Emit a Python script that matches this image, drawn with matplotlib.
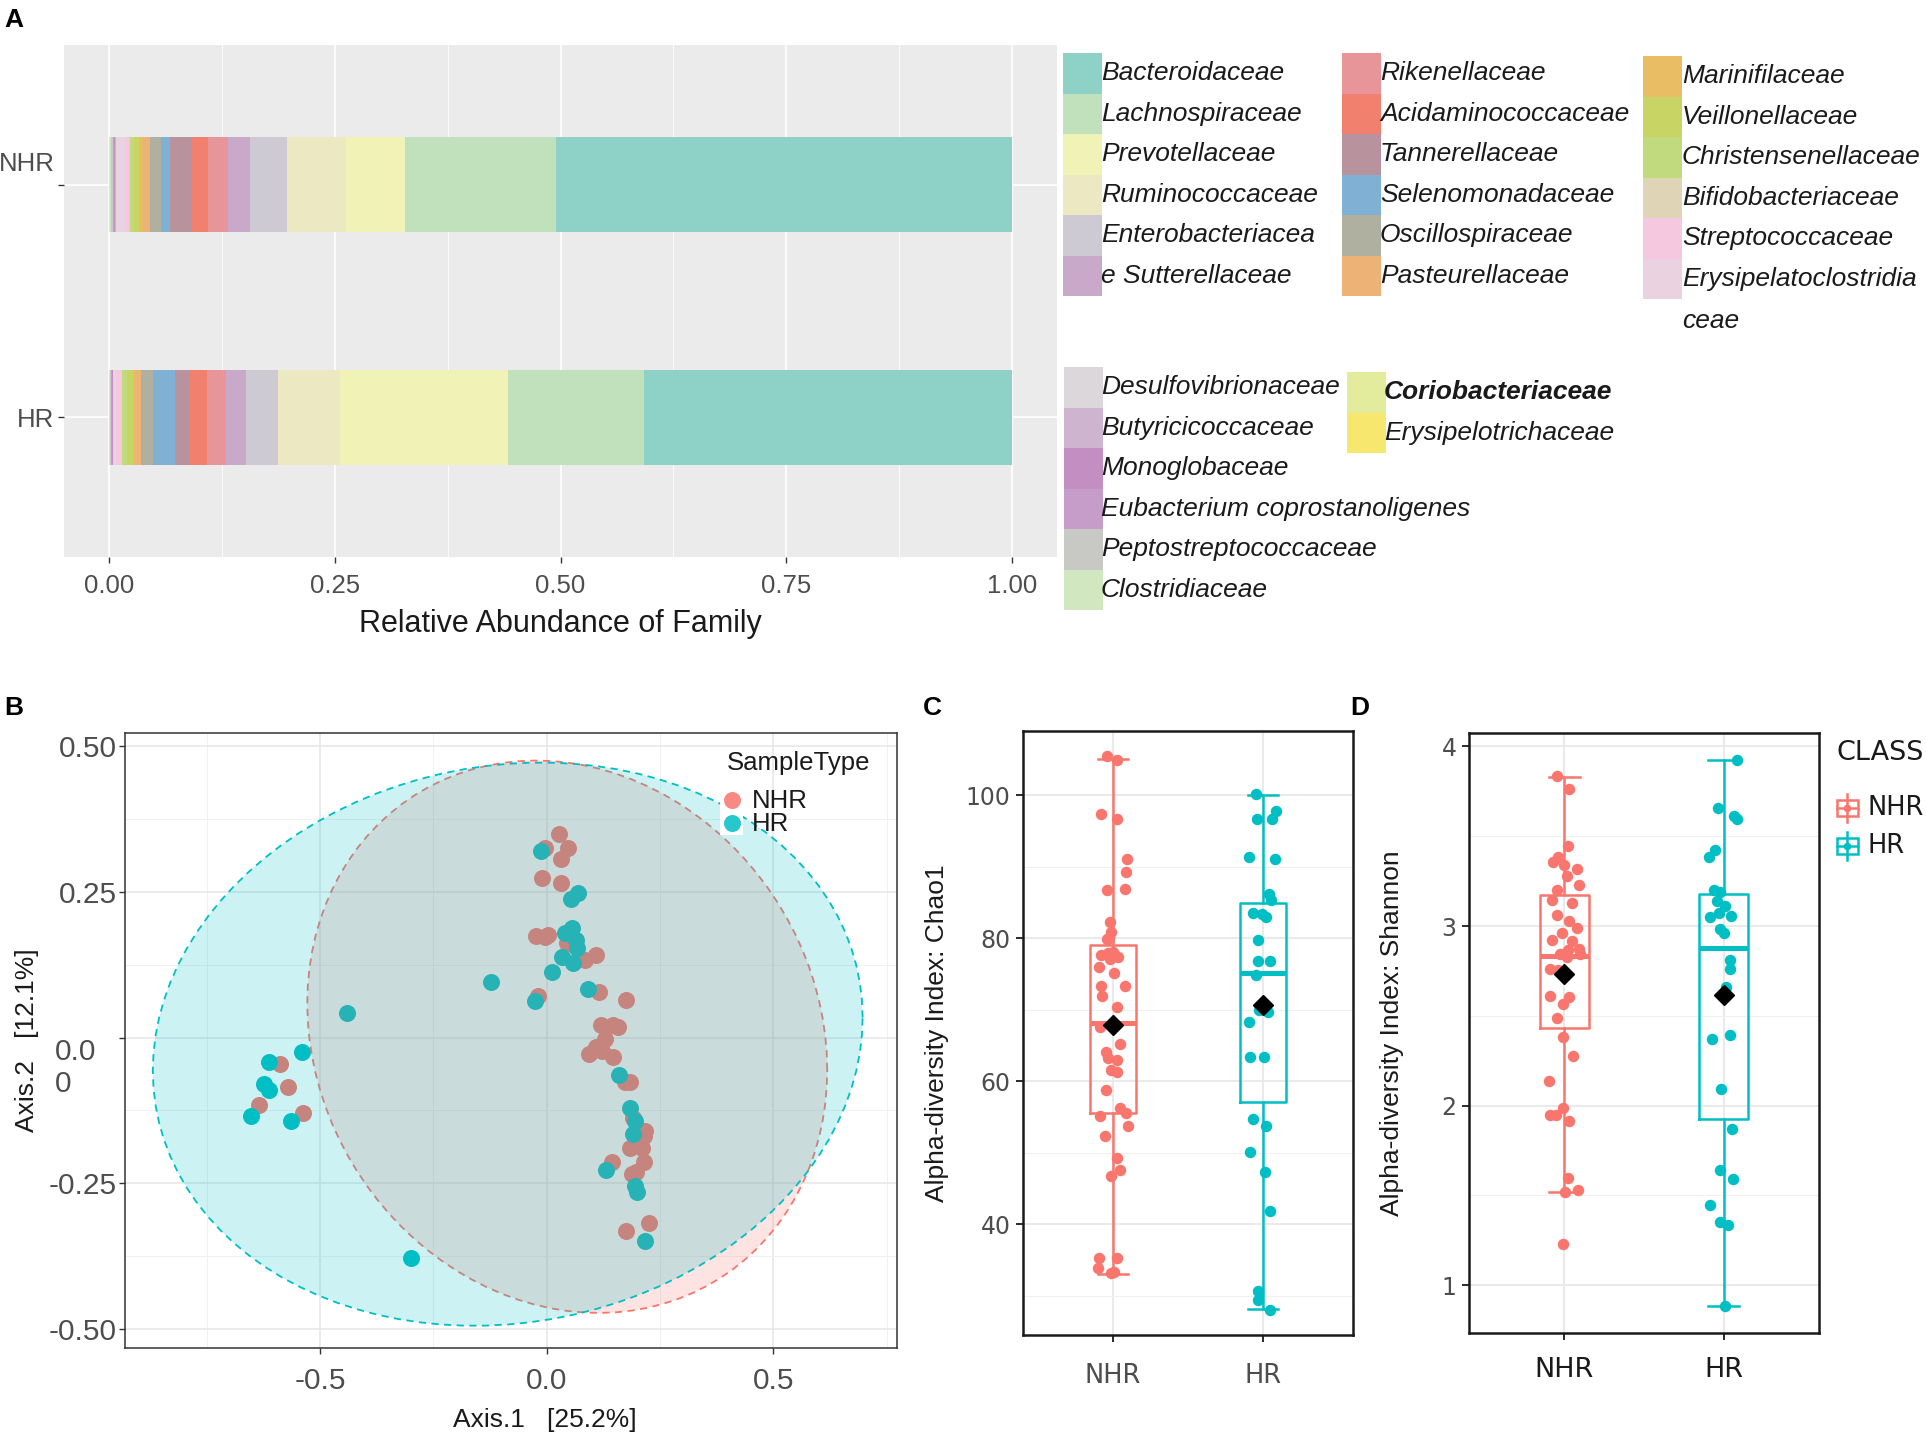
import numpy as np
import matplotlib
matplotlib.use("Agg")
import matplotlib.pyplot as plt
from matplotlib.patches import Rectangle
from matplotlib.ticker import FixedLocator
from matplotlib.transforms import ScaledTranslation

plt.rcParams['font.family'] = ['Liberation Sans', 'DejaVu Sans']

# ---------------- data ----------------
families = ['Bacteroidaceae', 'Lachnospiraceae', 'Prevotellaceae', 'Ruminococcaceae',
            'Enterobacteriaceae', 'Sutterellaceae', 'Rikenellaceae', 'Acidaminococcaceae',
            'Tannerellaceae', 'Selenomonadaceae', 'Oscillospiraceae', 'Pasteurellaceae',
            'Marinifilaceae', 'Veillonellaceae', 'Christensenellaceae', 'Bifidobacteriaceae',
            'Streptococcaceae', 'Erysipelatoclostridiaceae', 'Desulfovibrionaceae',
            'Butyricicoccaceae', 'Monoglobaceae', 'Eubacterium coprostanoligenes',
            'Peptostreptococcaceae', 'Clostridiaceae', 'Coriobacteriaceae', 'Erysipelotrichaceae']
legend_labels = ['Bacteroidaceae', 'Lachnospiraceae', 'Prevotellaceae', 'Ruminococcaceae',
                 'Enterobacteriacea', 'e Sutterellaceae', 'Rikenellaceae', 'Acidaminococcaceae',
                 'Tannerellaceae', 'Selenomonadaceae', 'Oscillospiraceae', 'Pasteurellaceae',
                 'Marinifilaceae', 'Veillonellaceae', 'Christensenellaceae', 'Bifidobacteriaceae',
                 'Streptococcaceae', 'Erysipelatoclostridia\nceae', 'Desulfovibrionaceae',
                 'Butyricicoccaceae', 'Monoglobaceae', 'Eubacterium coprostanoligenes',
                 'Peptostreptococcaceae', 'Clostridiaceae', 'Coriobacteriaceae', 'Erysipelotrichaceae']
family_colors = ['#8ed1c6', '#c1e1bd', '#f0f2b6', '#ebe8c2', '#cdcad3', '#c8a9c9', '#e8959a',
                 '#f2806f', '#b8929d', '#80b0d4', '#b0b0a1', '#ecb276', '#e8bd63', '#c8d464',
                 '#c2da7e', '#dfd5b6', '#f6c8df', '#ead2e0', '#dbd7da', '#cfb4cf', '#c38fc3',
                 '#c59dc8', '#c8c9c4', '#d1e7c0', '#e3ec9c', '#f8e76e']
bar_groups = ['HR', 'NHR']
nhr_abund = [0.505, 0.168, 0.065, 0.066, 0.041, 0.024, 0.0215, 0.0184, 0.024, 0.0107, 0.0122,
             0.007, 0.0052, 0.005, 0.005, 0.0003, 0.004, 0.010, 0.0008, 0.0005, 0.0017, 0.0015,
             0.002, 0.001, 0.0005, 0.0003]
hr_abund = [0.4075, 0.1505, 0.186, 0.0686, 0.0351, 0.0229, 0.021, 0.0185, 0.017, 0.024, 0.0137,
            0.006, 0.0025, 0.007, 0.0048, 0.0005, 0.0065, 0.002, 0.001, 0.0006, 0.001, 0.001,
            0.001, 0.0005, 0.0003, 0.0002]

classes = ['NHR', 'HR']
class_colors = ['#F8766D', '#00BFC4']

nhr_axis1 = [0.028, 0.047, -0.004, 0.031, -0.010, 0.031, -0.023, -0.004, 0.003, 0.044, 0.084,
             0.110, -0.019, 0.116, 0.175, 0.120, 0.147, 0.157, 0.128, 0.110, 0.093, 0.122, 0.147,
             0.173, 0.185, 0.191, 0.217, 0.214, 0.185, 0.210, 0.214, 0.145, 0.189, 0.198, 0.225,
             0.176, -0.589, -0.571, -0.634, -0.537]
nhr_axis2 = [0.349, 0.325, 0.325, 0.306, 0.274, 0.266, 0.175, 0.173, 0.177, 0.162, 0.133, 0.141,
             0.071, 0.078, 0.064, 0.021, 0.021, 0.018, -0.003, -0.017, -0.028, -0.023, -0.033,
             -0.076, -0.076, -0.138, -0.161, -0.169, -0.190, -0.190, -0.213, -0.213, -0.234,
             -0.230, -0.319, -0.332, -0.046, -0.084, -0.116, -0.130]
hr_axis1 = [-0.013, 0.069, 0.053, 0.055, 0.040, 0.065, 0.068, 0.034, 0.059, 0.011, -0.123, -0.026,
            0.091, 0.160, 0.185, 0.195, 0.191, 0.132, 0.194, 0.200, 0.217, -0.300, -0.440, -0.540,
            -0.612, -0.623, -0.612, -0.652, -0.564]
hr_axis2 = [0.320, 0.249, 0.238, 0.188, 0.179, 0.167, 0.153, 0.138, 0.128, 0.112, 0.096, 0.063,
            0.083, -0.065, -0.121, -0.144, -0.165, -0.228, -0.254, -0.265, -0.350, -0.378, 0.042,
            -0.025, -0.042, -0.079, -0.090, -0.134, -0.143]

chao_nhr = [105.4, 104.9, 97.3, 96.7, 91.0, 89.2, 86.9, 86.7, 82.2, 80.9, 80.0, 79.8, 77.6, 77.9,
            78.1, 77.3, 76.0, 77.1, 75.1, 73.3, 73.3, 71.9, 70.3, 67.6, 65.2, 64.1, 63.2, 62.9,
            61.6, 61.3, 58.7, 56.3, 55.6, 55.1, 53.7, 52.3, 49.3, 47.6, 46.8, 35.3, 35.3, 33.8,
            33.2, 33.3]
chao_nhr_jitter = [-0.04, 0.027, -0.078, 0.027, 0.093, 0.089, 0.082, -0.04, -0.018, -0.011, -0.027,
                   -0.04, -0.078, -0.033, 0.0, 0.033, -0.093, -0.022, 0.007, -0.078, 0.078, -0.071,
                   0.029, -0.089, 0.044, -0.044, -0.033, 0.027, -0.011, 0.027, -0.044, 0.049,
                   0.089, -0.089, 0.1, -0.056, 0.029, 0.049, -0.016, -0.093, 0.027, -0.1, -0.011,
                   0.007]
chao_hr = [100.1, 96.7, 96.7, 97.8, 91.4, 91.0, 86.1, 85.3, 83.5, 83.4, 82.9, 79.7, 76.8, 76.8,
           74.9, 69.6, 70.0, 68.3, 63.4, 63.3, 54.7, 53.7, 50.1, 47.3, 41.8, 30.7, 29.4, 28.0]
chao_hr_jitter = [-0.049, -0.04, 0.062, 0.084, -0.093, 0.078, 0.04, 0.056, -0.067, -0.004, 0.018,
                  -0.033, -0.033, 0.044, -0.044, 0.033, -0.027, -0.093, -0.089, 0.004, -0.067,
                  0.022, -0.089, 0.016, 0.049, -0.033, -0.033, 0.044]
chao_q1 = [55.6, 57.1]
chao_med = [68.1, 75.1]
chao_q3 = [79.0, 84.9]
chao_lo = [33.0, 28.1]
chao_hi = [105.0, 100.0]
chao_mean = [67.8, 70.6]

shan_nhr = [3.833, 3.764, 3.447, 3.384, 3.355, 3.338, 3.317, 3.276, 3.226, 3.198, 3.146, 3.131,
            3.062, 3.029, 2.988, 2.960, 2.923, 2.919, 2.867, 2.871, 2.843, 2.830, 2.843, 2.760,
            2.753, 2.613, 2.607, 2.566, 2.487, 2.381, 2.277, 2.139, 1.985, 1.948, 1.948, 1.916,
            1.596, 1.521, 1.530, 1.230]
shan_nhr_jitter = [-0.044, 0.031, 0.025, -0.038, -0.073, -0.002, 0.078, 0.019, 0.092, -0.044,
                   -0.08, 0.046, -0.048, 0.031, 0.078, -0.017, -0.08, 0.046, 0.025, 0.094,
                   -0.027, 0.015, 0.099, -0.09, -0.038, -0.094, 0.031, -0.01, -0.048, -0.01,
                   0.052, -0.096, -0.01, -0.09, -0.052, 0.031, 0.025, 0.004, 0.088, -0.01]
shan_hr = [3.922, 3.657, 3.611, 3.598, 3.421, 3.384, 3.198, 3.192, 3.137, 3.109, 3.075, 3.049,
           3.058, 2.983, 2.960, 2.812, 2.760, 2.663, 2.394, 2.370, 2.091, 1.869, 1.642, 1.590,
           1.447, 1.350, 1.335, 0.884]
shan_hr_jitter = [0.084, -0.038, 0.063, 0.084, -0.052, -0.094, -0.063, -0.025, -0.042, 0.01,
                  -0.031, -0.088, 0.048, -0.021, 0.0, 0.042, 0.042, 0.017, 0.042, -0.073, -0.017,
                  0.052, -0.025, 0.059, -0.084, -0.021, 0.025, 0.01]
shan_q1 = [2.431, 1.924]
shan_med = [2.836, 2.880]
shan_q3 = [3.174, 3.180]
shan_lo = [1.521, 0.886]
shan_hi = [3.830, 3.922]
shan_mean = [2.734, 2.617]

# ---------------- layout helpers ----------------
W, H = 1926, 1440
fig = plt.figure(figsize=(W / 100, H / 100), dpi=100)


def rect(l, t, r, b):
    return [l / W, 1 - b / H, (r - l) / W, (b - t) / H]


def shift(txt, dx_pt, dy_pt):
    txt.set_transform(txt.get_transform() +
                      ScaledTranslation(dx_pt / 72, dy_pt / 72, fig.dpi_scale_trans))


GRAY_TXT = '#4d4d4d'

# ---------------- Panel A ----------------
axA = fig.add_axes(rect(64, 45, 1057, 557))
axA.set_facecolor('#ebebeb')
for sp in axA.spines.values():
    sp.set_visible(False)
abund = {'NHR': np.array(nhr_abund), 'HR': np.array(hr_abund)}
for gi, g in enumerate(bar_groups):
    vals = abund[g] / abund[g].sum()
    left = 0.0
    for fi in range(len(families) - 1, -1, -1):
        axA.barh(gi + 1, vals[fi], left=left, height=0.41, color=family_colors[fi],
                 linewidth=0, zorder=3)
        left += vals[fi]
axA.set_xlim(-0.05, 1.05)
axA.set_ylim(0.4, 2.6)
axA.set_xticks([0, 0.25, 0.5, 0.75, 1.0])
axA.set_xticklabels(['0.00', '0.25', '0.50', '0.75', '1.00'])
axA.xaxis.set_minor_locator(FixedLocator([0.125, 0.375, 0.625, 0.875]))
axA.set_yticks([1, 2])
axA.set_yticklabels(bar_groups)
axA.grid(which='major', color='white', linewidth=1.2, zorder=0)
axA.grid(which='minor', axis='x', color='white', linewidth=0.6, zorder=0)
axA.set_axisbelow(True)
axA.tick_params(axis='both', length=4, width=1, color='#333333', labelcolor=GRAY_TXT,
                labelsize=18.5, pad=3)
axA.tick_params(axis='x', pad=8)
axA.tick_params(axis='x', which='minor', length=0)
shift(axA.get_yticklabels()[1], 0, 17)
axA.set_xlabel('Relative Abundance of Family', fontsize=22, color='#1a1a1a', labelpad=8)

# ---------------- Panel B ----------------
axB = fig.add_axes(rect(125, 733, 897, 1348))
axB.set_xlim(-0.93, 0.773)
axB.set_ylim(-0.533, 0.523)
pcoa = [(nhr_axis1, nhr_axis2), (hr_axis1, hr_axis2)]
for ci, (a1, a2) in enumerate(pcoa):
    axB.scatter(a1, a2, s=150, color=class_colors[ci], linewidths=0, zorder=2)


def stat_ellipse(x, y, level=0.95, segments=101):
    pts = np.column_stack([x, y])
    n = len(pts)
    center = pts.mean(axis=0)
    cov = np.cov(pts.T)
    dfd = n - 1
    fq = (dfd / 2.0) * ((1 - level) ** (-2.0 / dfd) - 1)
    radius = np.sqrt(2 * fq)
    chol = np.linalg.cholesky(cov).T
    ang = np.linspace(0, 2 * np.pi, segments)
    unit = np.column_stack([np.cos(ang), np.sin(ang)])
    return center + radius * unit @ chol


for ci, (a1, a2) in enumerate(pcoa):
    e = stat_ellipse(a1, a2)
    axB.fill(e[:, 0], e[:, 1], color=class_colors[ci], alpha=0.2, linewidth=0, zorder=3 + 2 * ci)
    axB.plot(e[:, 0], e[:, 1], color=class_colors[ci], linestyle=(0, (4, 3)), linewidth=1.3,
             zorder=4 + 2 * ci)
axB.set_xticks([-0.5, 0.0, 0.5])
axB.set_xticklabels(['-0.5', '0.0', '0.5'])
axB.xaxis.set_minor_locator(FixedLocator([-0.75, -0.25, 0.25, 0.75]))
axB.set_yticks([-0.5, -0.25, 0.0, 0.25, 0.5])
axB.set_yticklabels(['-0.50', '-0.25', '0.0\n0', '0.25', '0.50'])
axB.yaxis.set_minor_locator(FixedLocator([-0.375, -0.125, 0.125, 0.375]))
axB.grid(which='major', color='#e6e6e6', linewidth=1.1, zorder=0)
axB.grid(which='minor', color='#f0f0f0', linewidth=0.7, zorder=0)
axB.set_axisbelow(True)
for sp in axB.spines.values():
    sp.set_color('#333333')
    sp.set_linewidth(1.1)
axB.tick_params(which='major', length=4, width=1, color='#333333', labelcolor=GRAY_TXT,
                labelsize=21.5, pad=2)
axB.tick_params(axis='x', pad=10)
axB.tick_params(which='minor', length=0)
zl = axB.get_yticklabels()[2]
zl.set_verticalalignment('top')
zl.set_multialignment('left')
shift(zl, -15, 0)
axB.set_xlabel('Axis.1   [25.2%]', fontsize=19, color='#1a1a1a')
axB.xaxis.set_label_coords(0.544, -0.098)
axB.set_ylabel('Axis.2   [12.1%]', fontsize=19, color='#1a1a1a')
axB.yaxis.set_label_coords(-0.112, 0.5)


# ---------------- Panels C / D ----------------
def box_panel(ax, q1, med, q3, lo, hi, means, vals, jits, ylim, yticks, yminor, ylabel):
    stats = []
    for i in range(2):
        stats.append(dict(q1=q1[i], med=med[i], q3=q3[i], whislo=lo[i], whishi=hi[i],
                          fliers=[], label=classes[i]))
    for i in range(2):
        ax.scatter(np.array(jits[i]) + i + 1, vals[i], s=68, color=class_colors[i],
                   linewidths=0, zorder=3)
    res = ax.bxp(stats, positions=[1, 2], widths=0.31, capwidths=0.2, showfliers=False,
                 manage_ticks=False, zorder=4)
    for i in range(2):
        c = class_colors[i]
        res['boxes'][i].set(color=c, linewidth=1.8)
        res['medians'][i].set(color=c, linewidth=3.6)
        for k in (2 * i, 2 * i + 1):
            res['whiskers'][k].set(color=c, linewidth=1.8)
            res['caps'][k].set(color=c, linewidth=1.8)
    ax.plot([1, 2], means, linestyle='none', marker='D', markersize=10, color='black', zorder=6)
    ax.set_xlim(0.4, 2.6)
    ax.set_ylim(*ylim)
    ax.set_xticks([1, 2])
    ax.set_xticklabels(classes)
    ax.set_yticks(yticks)
    ax.yaxis.set_minor_locator(FixedLocator(yminor))
    ax.grid(which='major', color='#e8e8e8', linewidth=1.3, zorder=0)
    ax.grid(which='minor', axis='y', color='#f0f0f0', linewidth=0.8, zorder=0)
    ax.set_axisbelow(True)
    for sp in ax.spines.values():
        sp.set_color('#1a1a1a')
        sp.set_linewidth(1.8)
    ax.tick_params(which='major', length=5, width=1.3, color='#1a1a1a', labelcolor=GRAY_TXT,
                   labelsize=17, pad=4)
    ax.tick_params(which='minor', length=0)
    for t in ax.get_xticklabels() + ax.get_yticklabels():
        t.set_fontfamily('DejaVu Sans')
    ax.set_ylabel(ylabel, fontsize=19, color='#1a1a1a')


axC = fig.add_axes(rect(1023, 731, 1353, 1335))
box_panel(axC, chao_q1, chao_med, chao_q3, chao_lo, chao_hi, chao_mean,
          [chao_nhr, chao_hr], [chao_nhr_jitter, chao_hr_jitter],
          (24.5, 108.95), [40, 60, 80, 100], [30, 50, 70, 90], 'Alpha-diversity Index: Chao1')
axC.tick_params(axis='x', pad=15, labelsize=18.5)
axC.yaxis.set_label_coords(-0.225, 0.5)

axD = fig.add_axes(rect(1469, 733, 1819, 1333))
box_panel(axD, shan_q1, shan_med, shan_q3, shan_lo, shan_hi, shan_mean,
          [shan_nhr, shan_hr], [shan_nhr_jitter, shan_hr_jitter],
          (0.734, 4.075), [1, 2, 3, 4], [1.5, 2.5, 3.5], 'Alpha-diversity Index: Shannon')
axD.tick_params(axis='x', pad=12, labelsize=19.5, labelcolor='#1a1a1a')
axD.yaxis.set_label_coords(-0.186, 0.5)

# ---------------- overlay (legends, panel letters) ----------------
ov = fig.add_axes([0, 0, 1, 1], zorder=10)
ov.set_xlim(0, W)
ov.set_ylim(H, 0)
ov.axis('off')
ov.patch.set_alpha(0)

for txt, (x, y) in zip('ABCD', [(4, 20), (4, 708), (923, 708), (1350, 708)]):
    ov.text(x, y, txt, fontsize=19, fontweight='bold', ha='left', va='center', color='black')

# legend of panel A
ROW = 40.5
legend_cols = [(1063, 1101, 53, range(0, 6)), (1342, 1380, 53, range(6, 12)),
               (1643, 1682, 56, range(12, 18)), (1064, 1101, 367, range(18, 24)),
               (1347, 1384, 372, range(24, 26))]
for kx, tx, top, idxs in legend_cols:
    for r, fi in enumerate(idxs):
        y0 = top + r * ROW
        ov.add_patch(Rectangle((kx, y0), 39, ROW, facecolor=family_colors[fi], edgecolor='none'))
        lines = legend_labels[fi].split('\n')
        for li, line in enumerate(lines):
            ov.text(tx, y0 + ROW / 2 + li * 42, line, fontsize=19, fontstyle='italic',
                    fontweight='bold' if families[fi] == 'Coriobacteriaceae' else 'normal',
                    ha='left', va='center', color='#1a1a1a')

# legend of panel B
ov.text(727, 763, 'SampleType', fontsize=18.5, ha='left', va='center', color='#1a1a1a')
ov.add_patch(Rectangle((720, 791), 23, 44, facecolor='white', edgecolor='none'))
for ci, (cname, yy) in enumerate(zip(classes, [800, 823])):
    ov.scatter([732], [yy], s=150, color=class_colors[ci], alpha=0.85, linewidths=0)
    ov.text(752, yy + 1, cname, fontsize=18.5, ha='left', va='center', color='#1a1a1a')

# legend of panel D
ov.text(1837, 753, 'CLASS', fontsize=19.5, family='DejaVu Sans', ha='left', va='center',
        color='#1a1a1a')
for ci, (cname, yy) in enumerate(zip(classes, [808, 846])):
    c = class_colors[ci]
    ov.plot([1847, 1847], [yy - 14, yy + 14], color=c, linewidth=1.8)
    ov.add_patch(Rectangle((1837, yy - 8), 21, 16, facecolor='white', edgecolor=c, linewidth=1.8))
    ov.plot([1837, 1858], [yy, yy], color=c, linewidth=1.8)
    ov.scatter([1847], [yy], s=30, color=c, linewidths=0, zorder=5)
    ov.text(1868, yy, cname, fontsize=18.5, family='DejaVu Sans', ha='left', va='center',
            color='#1a1a1a')

fig.savefig('out.png', dpi=100)
